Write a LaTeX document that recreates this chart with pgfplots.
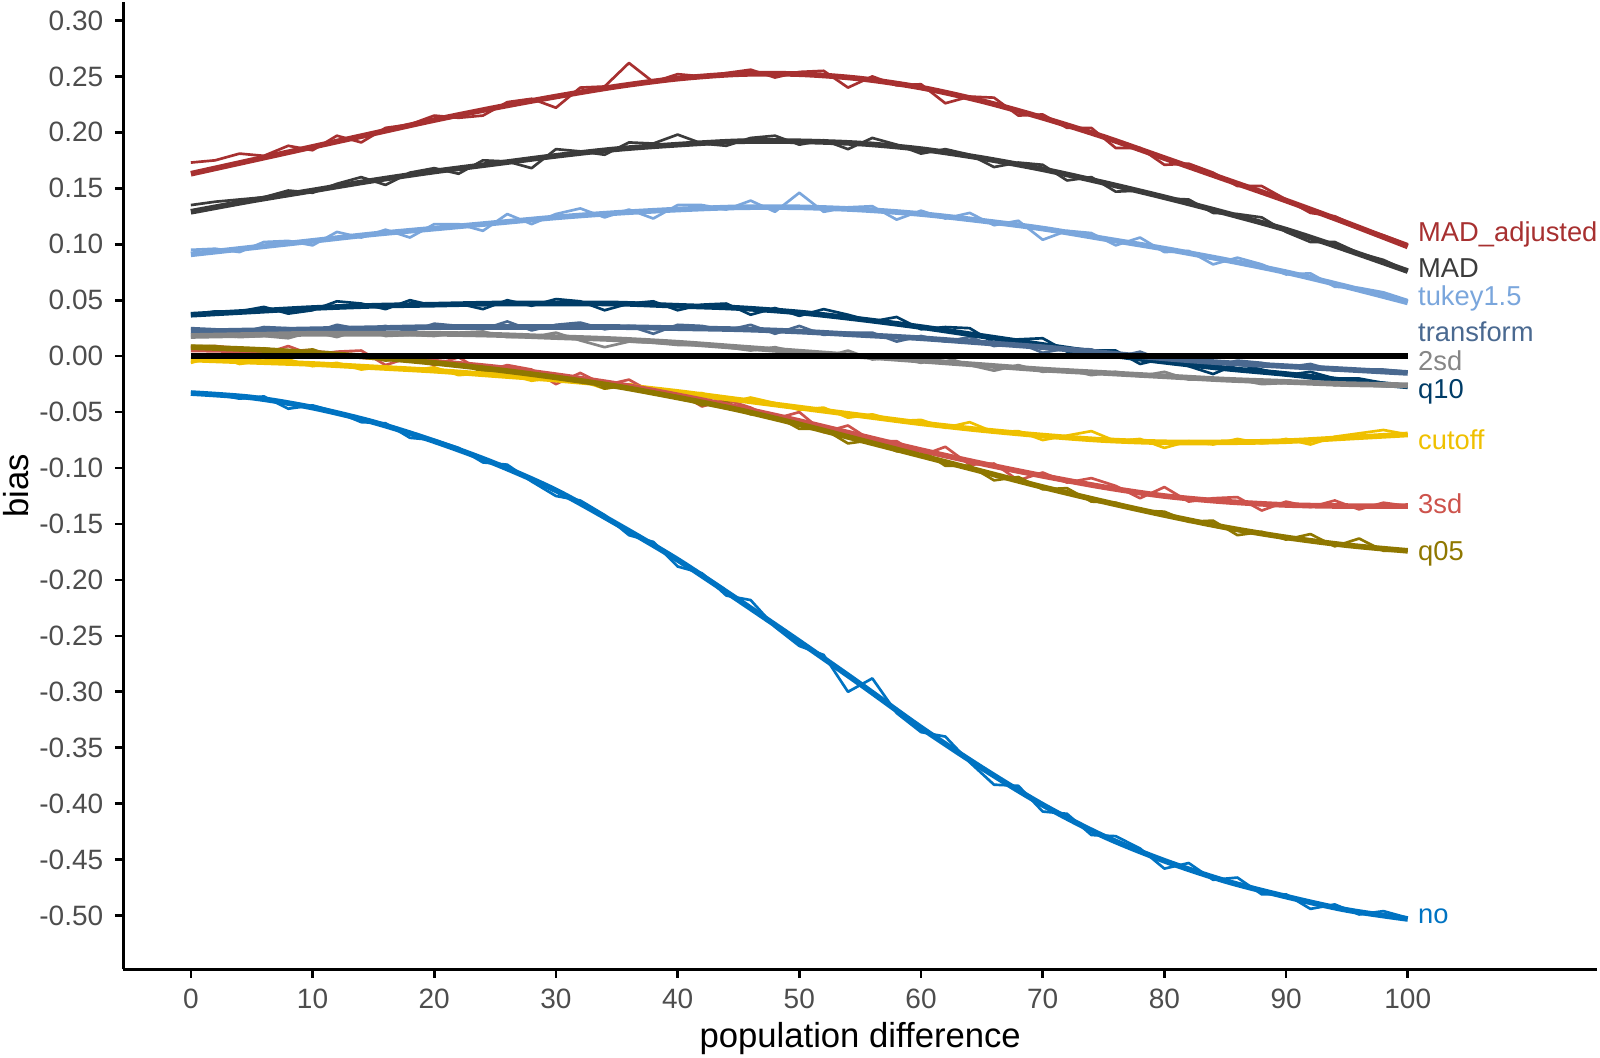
\documentclass[border=0pt]{standalone}
\usepackage{pgfplots}
\pgfplotsset{compat=1.18}
\usepackage{pgfplotstable}
\usepackage{fontspec}
\setmainfont{Liberation Sans}

\definecolor{cno}{HTML}{0073C2}
\definecolor{ccutoff}{HTML}{EFC000}
\definecolor{ctwosd}{HTML}{868686}
\definecolor{cthreesd}{HTML}{CD534C}
\definecolor{ctukey}{HTML}{7AA6DC}
\definecolor{cqten}{HTML}{003C67}
\definecolor{cqfive}{HTML}{8F7700}
\definecolor{cmad}{HTML}{3B3B3B}
\definecolor{cmadadj}{HTML}{A73030}
\definecolor{ctransform}{HTML}{4A6990}
\definecolor{tickgray}{HTML}{4D4D4D}

\pgfplotstableread{
x madadj mad tukey qten transform sdtwo cutoff sdthree qfive no
0 0.173 0.135 0.095 0.037 0.025 0.018 -0.006 0.008 0.009 -0.033
2 0.175 0.138 0.096 0.040 0.024 0.019 0.000 0.009 0.009 -0.034
4 0.181 0.140 0.093 0.040 0.021 0.017 -0.007 0.007 0.005 -0.038
6 0.179 0.142 0.102 0.044 0.026 0.018 -0.004 0.002 0.007 -0.036
8 0.188 0.148 0.103 0.038 0.025 0.016 -0.003 0.009 0.004 -0.047
10 0.184 0.146 0.099 0.041 0.021 0.022 -0.009 0.001 0.006 -0.044
12 0.197 0.154 0.111 0.049 0.028 0.017 -0.006 0.004 -0.001 -0.050
14 0.191 0.160 0.106 0.047 0.024 0.024 -0.012 0.005 0.001 -0.059
16 0.204 0.153 0.113 0.042 0.027 0.018 -0.009 -0.008 -0.004 -0.060
18 0.207 0.164 0.106 0.050 0.022 0.019 -0.013 -0.001 -0.001 -0.073
20 0.215 0.168 0.118 0.045 0.029 0.018 -0.010 -0.008 -0.007 -0.075
22 0.213 0.163 0.118 0.047 0.027 0.021 -0.017 -0.001 -0.006 -0.082
24 0.215 0.175 0.112 0.042 0.024 0.022 -0.015 -0.014 -0.014 -0.095
26 0.227 0.174 0.127 0.050 0.031 0.017 -0.016 -0.008 -0.012 -0.097
28 0.230 0.168 0.118 0.045 0.023 0.017 -0.022 -0.012 -0.013 -0.112
30 0.222 0.185 0.127 0.051 0.028 0.021 -0.019 -0.025 -0.021 -0.125
32 0.240 0.183 0.132 0.049 0.030 0.014 -0.022 -0.015 -0.020 -0.129
34 0.241 0.180 0.124 0.041 0.024 0.008 -0.029 -0.026 -0.029 -0.142
36 0.262 0.191 0.131 0.047 0.027 0.013 -0.025 -0.021 -0.026 -0.160
38 0.245 0.190 0.123 0.049 0.020 0.012 -0.029 -0.033 -0.034 -0.166
40 0.252 0.198 0.135 0.041 0.028 0.010 -0.035 -0.032 -0.035 -0.188
42 0.250 0.190 0.135 0.046 0.027 0.010 -0.033 -0.045 -0.044 -0.194
44 0.253 0.188 0.131 0.047 0.023 0.008 -0.042 -0.039 -0.041 -0.214
46 0.256 0.195 0.139 0.037 0.028 0.005 -0.037 -0.046 -0.052 -0.218
48 0.249 0.197 0.129 0.043 0.020 0.008 -0.042 -0.056 -0.053 -0.242
50 0.254 0.189 0.146 0.036 0.027 0.003 -0.048 -0.050 -0.065 -0.259
52 0.255 0.193 0.129 0.042 0.019 -0.001 -0.046 -0.068 -0.065 -0.267
54 0.240 0.185 0.133 0.037 0.021 0.005 -0.055 -0.062 -0.078 -0.300
56 0.250 0.195 0.134 0.031 0.021 -0.003 -0.052 -0.076 -0.075 -0.288
58 0.242 0.189 0.122 0.035 0.013 -0.001 -0.058 -0.076 -0.085 -0.319
60 0.243 0.181 0.130 0.024 0.018 -0.006 -0.057 -0.089 -0.084 -0.336
62 0.226 0.185 0.123 0.026 0.013 -0.001 -0.064 -0.081 -0.098 -0.340
64 0.232 0.180 0.128 0.025 0.017 -0.008 -0.059 -0.097 -0.098 -0.363
66 0.231 0.169 0.117 0.012 0.009 -0.013 -0.068 -0.096 -0.111 -0.383
68 0.215 0.173 0.121 0.015 0.012 -0.008 -0.067 -0.111 -0.108 -0.384
70 0.216 0.171 0.104 0.016 0.003 -0.014 -0.075 -0.104 -0.119 -0.407
72 0.204 0.157 0.112 0.004 0.007 -0.012 -0.071 -0.113 -0.118 -0.409
74 0.204 0.160 0.110 0.005 0.006 -0.017 -0.067 -0.109 -0.130 -0.428
76 0.186 0.147 0.099 0.005 -0.001 -0.014 -0.076 -0.116 -0.131 -0.429
78 0.186 0.148 0.106 -0.007 0.004 -0.018 -0.074 -0.127 -0.138 -0.440
80 0.171 0.141 0.093 -0.002 -0.004 -0.014 -0.082 -0.117 -0.139 -0.458
82 0.172 0.140 0.094 -0.009 -0.003 -0.021 -0.076 -0.130 -0.148 -0.453
84 0.164 0.128 0.082 -0.016 -0.009 -0.021 -0.079 -0.127 -0.147 -0.468
86 0.152 0.127 0.088 -0.007 -0.004 -0.021 -0.074 -0.126 -0.160 -0.466
88 0.152 0.124 0.082 -0.012 -0.006 -0.025 -0.078 -0.138 -0.157 -0.481
90 0.140 0.111 0.073 -0.017 -0.010 -0.024 -0.074 -0.130 -0.164 -0.481
92 0.128 0.102 0.074 -0.014 -0.007 -0.022 -0.079 -0.135 -0.159 -0.494
94 0.125 0.102 0.062 -0.020 -0.013 -0.026 -0.072 -0.129 -0.170 -0.490
96 0.115 0.092 0.061 -0.020 -0.012 -0.025 -0.069 -0.137 -0.163 -0.499
98 0.108 0.086 0.057 -0.024 -0.012 -0.027 -0.066 -0.131 -0.174 -0.496
100 0.100 0.076 0.050 -0.027 -0.014 -0.026 -0.070 -0.134 -0.174 -0.502
}\noisy

\pgfplotstableread{
x madadj mad tukey qten transform sdtwo cutoff sdthree qfive no
0 0.163 0.129 0.091 0.037 0.022 0.018 -0.003 0.006 0.008 -0.033
5 0.175 0.139 0.097 0.040 0.023 0.019 -0.005 0.005 0.006 -0.037
10 0.187 0.148 0.103 0.043 0.024 0.020 -0.007 0.003 0.003 -0.046
15 0.199 0.157 0.109 0.045 0.025 0.020 -0.010 -0.001 -0.001 -0.059
20 0.211 0.165 0.114 0.046 0.026 0.020 -0.013 -0.005 -0.006 -0.076
25 0.222 0.172 0.119 0.047 0.026 0.019 -0.017 -0.010 -0.012 -0.096
30 0.232 0.179 0.124 0.047 0.026 0.017 -0.021 -0.017 -0.019 -0.120
35 0.241 0.185 0.128 0.047 0.026 0.015 -0.026 -0.025 -0.027 -0.150
40 0.248 0.189 0.131 0.045 0.025 0.012 -0.032 -0.035 -0.037 -0.182
45 0.252 0.192 0.133 0.043 0.024 0.008 -0.039 -0.046 -0.048 -0.218
50 0.252 0.192 0.133 0.039 0.022 0.004 -0.046 -0.058 -0.061 -0.255
55 0.248 0.190 0.131 0.033 0.019 0.000 -0.053 -0.071 -0.075 -0.293
60 0.240 0.185 0.127 0.026 0.016 -0.004 -0.060 -0.084 -0.089 -0.332
65 0.228 0.177 0.121 0.018 0.012 -0.008 -0.066 -0.096 -0.103 -0.368
70 0.213 0.167 0.114 0.010 0.008 -0.012 -0.071 -0.107 -0.117 -0.401
75 0.196 0.155 0.105 0.002 0.003 -0.015 -0.075 -0.117 -0.130 -0.429
80 0.177 0.142 0.096 -0.005 -0.002 -0.018 -0.077 -0.125 -0.142 -0.451
85 0.158 0.128 0.086 -0.011 -0.006 -0.021 -0.077 -0.130 -0.153 -0.469
90 0.139 0.113 0.075 -0.016 -0.009 -0.023 -0.076 -0.133 -0.162 -0.483
95 0.119 0.095 0.062 -0.022 -0.012 -0.025 -0.073 -0.134 -0.169 -0.495
100 0.098 0.076 0.048 -0.027 -0.015 -0.026 -0.070 -0.134 -0.174 -0.503
}\smoothtab

\begin{document}
\begin{tikzpicture}
\useasboundingbox (-37pt,-26.6pt) rectangle (443pt,290.8pt);
\begin{axis}[
  at={(0pt,0pt)}, anchor=south west,
  scale only axis, width=442.1pt, height=290.2pt,
  xmin=-5.55, xmax=115.55, ymin=-0.548, ymax=0.3165,
  axis lines=left,
  axis line style={-, line width=0.8pt, black},
  tick align=outside, major tick length=2.5pt,
  tick style={line width=0.8pt, black},
  xtick={0,10,20,30,40,50,60,70,80,90,100},
  xticklabels={0,10,20,30,40,50,60,70,80,90,100},
  ytick={-0.5,-0.45,-0.4,-0.35,-0.3,-0.25,-0.2,-0.15,-0.1,-0.05,0,0.05,0.1,0.15,0.2,0.25,0.3},
  yticklabels={-0.50,-0.45,-0.40,-0.35,-0.30,-0.25,-0.20,-0.15,-0.10,-0.05,0.00,0.05,0.10,0.15,0.20,0.25,0.30},
  tick label style={font=\fontsize{8.4}{10}\selectfont, text=tickgray},
  label style={font=\fontsize{10.4}{12}\selectfont, text=black},
  xlabel={population difference}, ylabel={bias},
  xlabel style={at={(axis description cs:0.5,-0.0713)}, anchor=center},
  ylabel style={at={(axis description cs:-0.0726,0.5)}, anchor=center},
  clip=false,
  no marks,
  every axis plot/.append style={line join=round},
]
% noisy series
\addplot[cmadadj, line width=0.8pt] table[x=x,y=madadj]{\noisy};
\addplot[cmad, line width=0.8pt] table[x=x,y=mad]{\noisy};
\addplot[ctukey, line width=0.8pt] table[x=x,y=tukey]{\noisy};
\addplot[cqten, line width=0.8pt] table[x=x,y=qten]{\noisy};
\addplot[ctransform, line width=0.8pt] table[x=x,y=transform]{\noisy};
\addplot[ctwosd, line width=0.8pt] table[x=x,y=sdtwo]{\noisy};
\addplot[ccutoff, line width=0.8pt] table[x=x,y=cutoff]{\noisy};
\addplot[cthreesd, line width=0.8pt] table[x=x,y=sdthree]{\noisy};
\addplot[cqfive, line width=0.8pt] table[x=x,y=qfive]{\noisy};
\addplot[cno, line width=0.8pt] table[x=x,y=no]{\noisy};
% smooth series
\addplot[cmadadj, line width=1.7pt, smooth] table[x=x,y=madadj]{\smoothtab};
\addplot[cmad, line width=1.7pt, smooth] table[x=x,y=mad]{\smoothtab};
\addplot[ctukey, line width=1.7pt, smooth] table[x=x,y=tukey]{\smoothtab};
\addplot[cqten, line width=1.7pt, smooth] table[x=x,y=qten]{\smoothtab};
\addplot[ctransform, line width=1.7pt, smooth] table[x=x,y=transform]{\smoothtab};
\addplot[ctwosd, line width=1.7pt, smooth] table[x=x,y=sdtwo]{\smoothtab};
\addplot[ccutoff, line width=1.7pt, smooth] table[x=x,y=cutoff]{\smoothtab};
\addplot[cthreesd, line width=1.7pt, smooth] table[x=x,y=sdthree]{\smoothtab};
\addplot[cqfive, line width=1.7pt, smooth] table[x=x,y=qfive]{\smoothtab};
\addplot[cno, line width=1.7pt, smooth] table[x=x,y=no]{\smoothtab};
% zero line
\addplot[black, line width=1.9pt] coordinates {(0,0) (100,0)};
% labels
\begin{scope}[every node/.style={anchor=base west, inner sep=0pt, font=\fontsize{8.2}{10}\selectfont}]
\node[text=cmadadj, yshift=-2.9pt] at (axis cs:100.8,0.111) {MAD\_adjusted};
\node[text=cmad, yshift=-2.9pt] at (axis cs:100.8,0.079) {MAD};
\node[text=ctukey, yshift=-2.9pt] at (axis cs:100.8,0.054) {tukey1.5};
\node[text=ctransform, yshift=-2.9pt] at (axis cs:100.8,0.022) {transform};
\node[text=ctwosd, yshift=-2.9pt] at (axis cs:100.8,-0.004) {2sd};
\node[text=cqten, yshift=-2.9pt] at (axis cs:100.8,-0.029) {q10};
\node[text=ccutoff, yshift=-2.9pt] at (axis cs:100.8,-0.075) {cutoff};
\node[text=cthreesd, yshift=-2.9pt] at (axis cs:100.8,-0.132) {3sd};
\node[text=cqfive, yshift=-2.9pt] at (axis cs:100.8,-0.174) {q05};
\node[text=cno, yshift=-2.1pt] at (axis cs:100.8,-0.501) {no};
\end{scope}
\end{axis}
\end{tikzpicture}
\end{document}
